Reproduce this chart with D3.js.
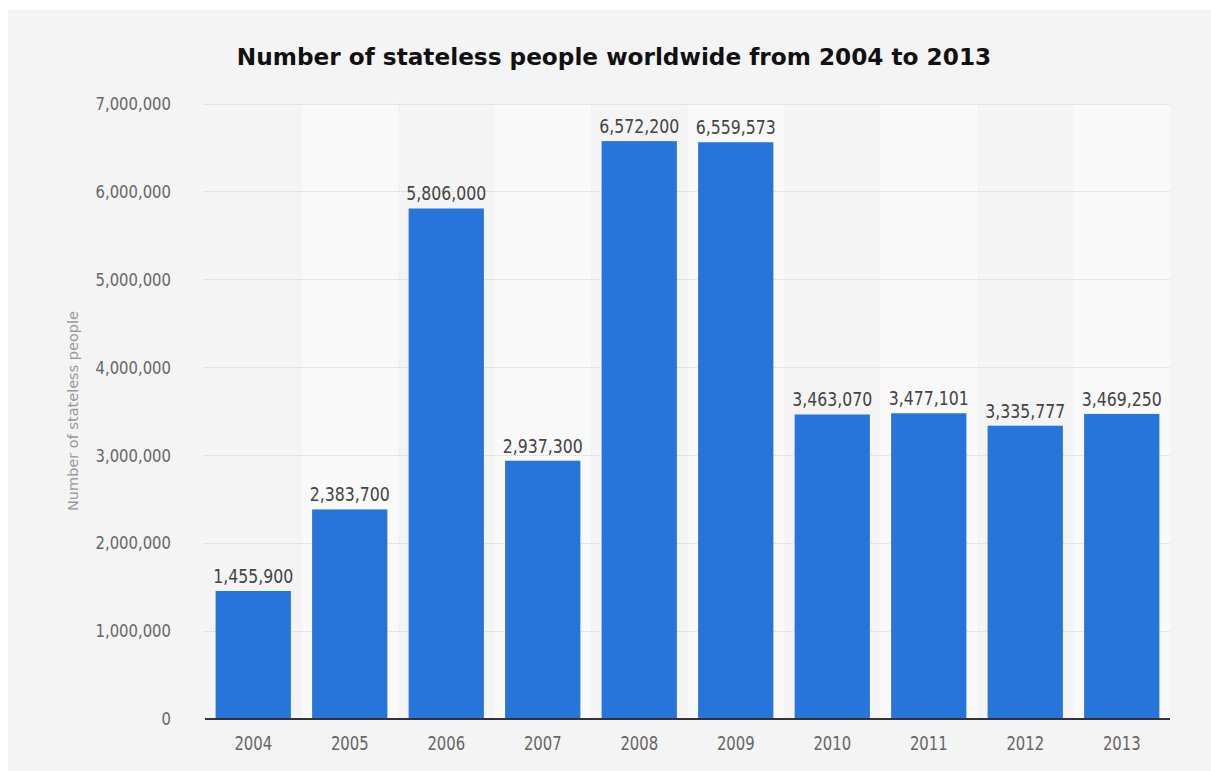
<!DOCTYPE html>
<html>
<head>
<meta charset="utf-8">
<script src="https://cdn.jsdelivr.net/npm/d3@7"></script>
<style>
  html, body { margin: 0; padding: 0; background: #ffffff; }
  svg { display: block; }
</style>
</head>
<body>
<svg id="chart" width="1211" height="771"></svg>
<script>
const years = ["2004","2005","2006","2007","2008","2009","2010","2011","2012","2013"];
const values = [1455900, 2383700, 5806000, 2937300, 6572200, 6559573, 3463070, 3477101, 3335777, 3469250];
const yTicks = [0, 1000000, 2000000, 3000000, 4000000, 5000000, 6000000, 7000000];
const titleText = "Number of stateless people worldwide from 2004 to 2013";
const yAxisTitle = "Number of stateless people";

const svg = d3.select("#chart");
const W = 1211, H = 771;
const m = { left: 205, right: 1170, top: 103.5, bottom: 719 };
const condFont = "'DejaVu Sans Condensed', 'DejaVu Sans', sans-serif";
const SY = 1.1;

svg.append("rect").attr("x", 8).attr("y", 10).attr("width", W - 8).attr("height", H - 10).attr("fill", "#f4f4f4");

const x = d3.scaleBand().domain(years).range([m.left, m.right]).paddingInner(0.22).paddingOuter(0.11);
const xb = d3.scaleBand().domain(years).range([m.left, m.right]).padding(0);
const y = d3.scaleLinear().domain([0, 7000000]).range([m.bottom, m.top]);
const fmt = d3.format(",");

// alternating bands
svg.append("g").selectAll("rect").data(years.filter((d, i) => i % 2 === 1)).join("rect")
  .attr("x", d => xb(d)).attr("y", m.top).attr("width", xb.bandwidth()).attr("height", m.bottom - m.top)
  .attr("fill", "#f9f9f9");

// gridlines
svg.append("g").selectAll("line").data(yTicks.filter(t => t > 0)).join("line")
  .attr("x1", m.left).attr("x2", m.right)
  .attr("y1", d => Math.round(y(d)) + 0.5).attr("y2", d => Math.round(y(d)) + 0.5)
  .attr("stroke", "#d6d6d6").attr("stroke-width", 1).attr("stroke-dasharray", "1,1");

// y axis labels
svg.append("g").selectAll("text").data(yTicks).join("text")
  .attr("transform", d => `translate(171,${y(d) + 6.3}) scale(1,${SY})`)
  .attr("text-anchor", "end")
  .attr("font-family", condFont).attr("font-size", 16.5).attr("fill", "#666")
  .text(d => fmt(d));

// bars
svg.append("g").selectAll("rect").data(values).join("rect")
  .attr("x", (d, i) => x(years[i])).attr("width", x.bandwidth())
  .attr("y", d => y(d)).attr("height", d => m.bottom - y(d))
  .attr("fill", "#2775db");

// value labels
svg.append("g").selectAll("text").data(values).join("text")
  .attr("transform", (d, i) => `translate(${x(years[i]) + x.bandwidth() / 2},${y(d) - 8}) scale(1,${SY})`)
  .attr("text-anchor", "middle")
  .attr("font-family", condFont).attr("font-size", 17.5).attr("fill", "#444")
  .text(d => fmt(d));

// x axis labels
svg.append("g").selectAll("text").data(years).join("text")
  .attr("transform", d => `translate(${xb(d) + xb.bandwidth() / 2},750) scale(1,${SY + 0.05})`)
  .attr("text-anchor", "middle")
  .attr("font-family", condFont).attr("font-size", 16.5).attr("fill", "#666")
  .text(d => d);

svg.append("line").attr("x1", m.left).attr("x2", m.right).attr("y1", m.bottom).attr("y2", m.bottom)
  .attr("stroke", "#333").attr("stroke-width", 2);

// title
svg.append("text").attr("x", 614).attr("y", 65).attr("text-anchor", "middle")
  .attr("font-family", "'DejaVu Sans', sans-serif").attr("font-weight", "bold")
  .attr("font-size", 23.2).attr("fill", "#111").text(titleText);

// y axis title
svg.append("text").attr("transform", `translate(78,411) rotate(-90)`).attr("text-anchor", "middle")
  .attr("font-family", "'DejaVu Sans', sans-serif").attr("font-size", 14.5).attr("fill", "#999")
  .text(yAxisTitle);
</script>
</body>
</html>
